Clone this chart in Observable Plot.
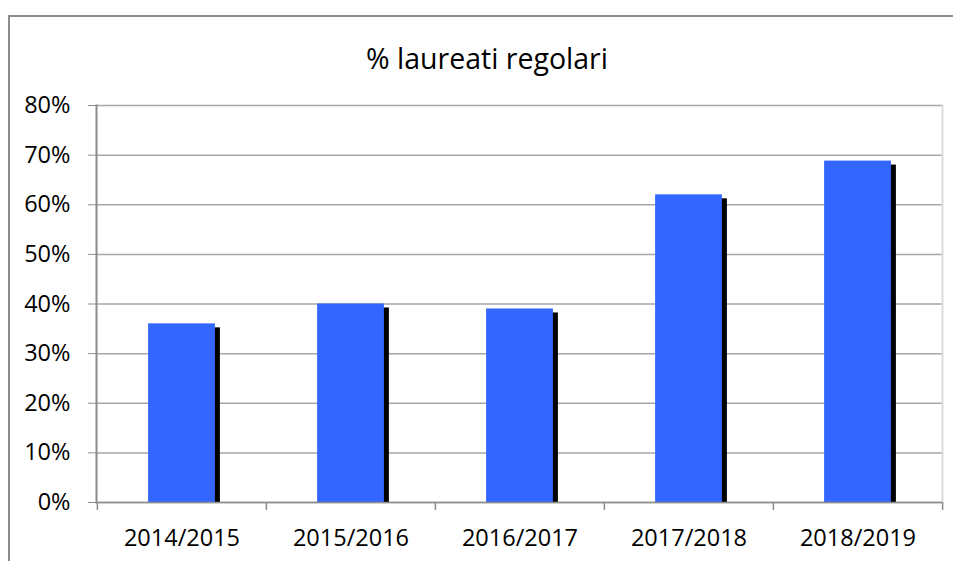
<!DOCTYPE html>
<html>
<head>
<meta charset="utf-8">
<script src="https://cdn.jsdelivr.net/npm/d3@7"></script>
<script src="https://cdn.jsdelivr.net/npm/@observablehq/plot@0.6"></script>
<style>
  body { margin: 0; background: #fff; font-family: "Open Sans", sans-serif; }
  #wrap { position: relative; width: 953px; height: 561px; overflow: hidden; }
  #frame { position: absolute; left: 8px; top: 15px; width: 1000px; height: 1000px;
           border-left: 2px solid #8c8c8c; border-top: 2px solid #8c8c8c; box-sizing: border-box; }
  #title { position: absolute; left: 8px; width: 958px; top: 39px; text-align: center;
           font-size: 28.5px; color: #000; }
  #chart { position: absolute; left: 0; top: 0; }
</style>
</head>
<body>
<div id="wrap">
  <div id="frame"></div>
  <div id="title">% laureati regolari</div>
  <div id="chart"></div>
</div>
<script>
const years = ["2014/2015", "2015/2016", "2016/2017", "2017/2018", "2018/2019"];
const values = [36.0, 40.0, 39.0, 62.0, 68.8];
const yTicks = [0, 10, 20, 30, 40, 50, 60, 70, 80];

const data = years.map((y, i) => ({year: y, value: values[i]}));

const W = 953, H = 561, mL = 96, mR = 11, mT = 105, mB = 59;
const step = (W - mL - mR) / years.length;
const inset = (step - 67) / 2;
const plotH = H - mT - mB;

const chart = Plot.plot({
  width: W,
  height: H,
  marginLeft: mL,
  marginRight: mR,
  marginTop: mT,
  marginBottom: mB,
  style: {background: "transparent", fontFamily: "Open Sans, sans-serif", color: "#000"},
  x: {domain: years, padding: 0, label: null},
  y: {domain: [0, 80], label: null},
  marks: [
    Plot.gridY(yTicks, {stroke: "#a6a6a6", strokeOpacity: 1, strokeWidth: 1.5}),
    Plot.frame({anchor: "right", stroke: "#dcdcdc", strokeWidth: 2}),
    Plot.barY(data, {x: "year", y: "value", fill: "#000", dx: 5, dy: 4, insetBottom: 4, insetLeft: inset, insetRight: inset}),
    Plot.barY(data, {x: "year", y: "value", fill: "#3366ff", insetLeft: inset, insetRight: inset}),
    Plot.ruleY([0], {stroke: "#8c8c8c", strokeWidth: 1.5}),
    Plot.frame({anchor: "left", stroke: "#8c8c8c", strokeWidth: 2}),
    Plot.ruleX(years, {x: d => d, dx: -step / 2, insetTop: plotH, insetBottom: -8, stroke: "#8c8c8c", strokeWidth: 1.5}),
    Plot.ruleX(years.slice(-1), {x: d => d, dx: step / 2, insetTop: plotH, insetBottom: -8, stroke: "#8c8c8c", strokeWidth: 1.5}),
    Plot.axisY(yTicks, {tickFormat: d => d + "%", tickSize: 8, tickPadding: 18, fontSize: 23.5, stroke: "#8c8c8c", fill: "#000", label: null}),
    Plot.axisX({tickSize: 0, tickPadding: 27, fontSize: 23.5, fill: "#000", label: null})
  ]
});
document.getElementById("chart").appendChild(chart);
</script>
</body>
</html>
